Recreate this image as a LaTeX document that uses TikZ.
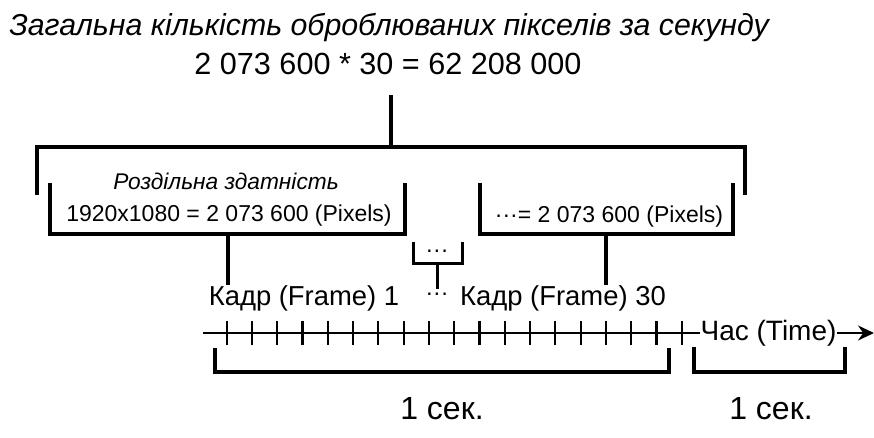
\documentclass[tikz,border=0pt]{standalone}
\usepackage{fontspec}
\setmainfont{Liberation Sans}
\usetikzlibrary{arrows.meta}
\begin{document}
\begin{tikzpicture}[x=1pt,y=-1pt,
  lbl/.style={inner sep=0pt, font=\fontsize{23}{26}\selectfont},
  titlefont/.style={inner sep=0pt, font=\fontsize{30.3}{34}\selectfont\itshape},
  sumfont/.style={inner sep=0pt, font=\fontsize{30.6}{34}\selectfont},
  framefont/.style={inner sep=0pt, font=\fontsize{27.4}{30}\selectfont},
  timefont/.style={inner sep=0pt, font=\fontsize{28}{30}\selectfont},
  secfont/.style={inner sep=0pt, font=\fontsize{32}{36}\selectfont},
  heavy/.style={line width=4pt},
  medium/.style={line width=3pt},
  axis/.style={line width=2.2pt}]
\fill[white] (0,0) rectangle (874,437);
\useasboundingbox (0,0) rectangle (874,437);

% totals at the top
\node[titlefont] (title) at (389,28) {Загальна кількість оброблюваних пікселів за секунду};
\node[sumfont] (sum) at (388,64) {2 073 600 * 30 = 62 208 000};

% bracket joining all frames of one second
\coordinate (stemtop) at (391,95);
\coordinate (stembot) at (391,147);
\draw[heavy] (stemtop) -- (stembot);
\draw[heavy] (37,195) |- (745,147) -- (745,195);

% resolution of the first frame
\node[lbl, font=\fontsize{22.7}{26}\selectfont\itshape] (res) at (226,181) {Роздільна здатність};
\node[lbl] (px1) at (229,216) {1920x1080 = 2 073 600 (Pixels)};
\draw[heavy] (50,183) |- (405,234) -- (405,183);
\coordinate (b1) at (228,234);

% frames in between
\node[lbl] (dotsmid) at (437,254) {···};
\draw[medium] (413,242) |- (462,263) -- (462,242);
\coordinate (b2) at (437,263);

% resolution of the last frame
\node[lbl] (px30) at (609,217) {···= 2 073 600 (Pixels)};
\draw[heavy] (480,183) |- (733,234) -- (733,183);
\coordinate (b3) at (606,234);

% frame labels
\node[framefont] (f1) at (304,298) {Кадр (Frame) 1};
\node[lbl] (fdots) at (437,297) {···};
\node[framefont] (f30) at (563,298) {Кадр (Frame) 30};
\draw[heavy] (b1) -- (b1 |- f1.north);
\draw[medium] (b2) -- ([yshift=4pt]b2 |- fdots.north);
\draw[heavy] (b3) -- (b3 |- f30.north);

% time axis
\coordinate (axstart) at (203,333);
\coordinate (axend) at (874,333);
\draw[axis, -{Stealth[length=16pt,width=15pt]}] (axstart) -- (axend);
\foreach \i in {0,...,18}
  \draw[axis] (226.7+25.28*\i,321) -- (226.7+25.28*\i,345);
\node[timefont, fill=white, inner xsep=1pt] (time) at (768.5,333) {Час (Time)};

% one second spans
\draw[heavy] (215,348) |- (669,372) -- (669,348);
\draw[heavy] (694,347) |- (845,372) -- (845,347);
\node[secfont] (s1) at (442,409) {1 сек.};
\node[secfont] (s2) at (771,409) {1 сек.};
\end{tikzpicture}
\end{document}
